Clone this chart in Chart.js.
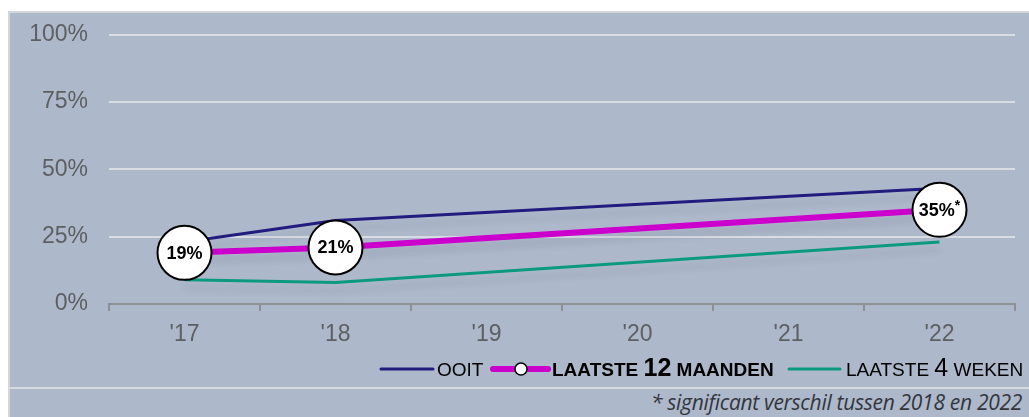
<!DOCTYPE html>
<html>
<head>
<meta charset="utf-8">
<script src="https://cdn.jsdelivr.net/npm/chart.js@4"></script>
<style>
  html, body { margin: 0; padding: 0; background: #ffffff; width: 1029px; height: 417px; overflow: hidden; }
  #panel {
    position: absolute; left: 8px; top: 11px; right: 0; bottom: 0;
    background: #adb8ca;
    border-left: 2px solid #d4d6da; border-top: 2px solid #d4d6da;
  }
  #sep { position: absolute; left: 8px; right: 0; top: 387px; height: 2px; background: #d6dae1; }
  #note {
    position: absolute; right: 7px; top: 388px;
    font-family: 'Open Sans', sans-serif; font-style: italic; font-size: 21px;
    letter-spacing: -0.3px;
    color: #33363d; white-space: nowrap;
  }
  #moneyChart { position: absolute; left: 0; top: 0; }
</style>
</head>
<body>
<div id="panel"></div>
<div id="sep"></div>
<div id="note">* significant verschil tussen 2018 en 2022</div>
<canvas id="moneyChart" width="1029" height="417"></canvas>
<script>
// jaren op de x-as
const years = ["'17", "'18", "'19", "'20", "'21", "'22"];

// percentages per reeks (geen meting in '19-'21)
const ooit = [23, 31, null, null, null, 43];
const laatste12 = [19, 21, null, null, null, 35];
const laatste4 = [9, 8, null, null, null, 23];
const significant = [false, false, false, false, false, true];

const yTicks = [0, 25, 50, 75, 100];

const fontFam = "'Liberation Sans', Arial, sans-serif";
const colOoit = '#221c7e';
const col12 = '#cc00cc';
const col4 = '#0b9a80';

const canvasEl = document.getElementById('moneyChart');

const shadowPlugin = {
    id: 'shadow',
    beforeDatasetDraw: (chart) => {
        const ctx = chart.ctx;
        ctx.save();
        ctx.shadowColor = 'rgba(40, 50, 70, 0.10)';
        ctx.shadowBlur = 6;
        ctx.shadowOffsetY = 8;
    },
    afterDatasetDraw: (chart) => {
        chart.ctx.restore();
    }
};

const bubbleLabels = {
    id: 'bubbleLabels',
    afterDatasetsDraw: (chart) => {
        const ctx = chart.ctx;
        const meta = chart.getDatasetMeta(1);
        ctx.save();
        laatste12.forEach((v, i) => {
            if (v === null) return;
            const pt = meta.data[i];
            ctx.beginPath();
            ctx.arc(pt.x, pt.y, 27, 0, Math.PI * 2);
            ctx.fillStyle = '#ffffff';
            ctx.fill();
            ctx.lineWidth = 2;
            ctx.strokeStyle = '#000000';
            ctx.stroke();

            const main = v + '%';
            ctx.font = 'bold 18px ' + fontFam;
            const w1 = ctx.measureText(main).width;
            let w2 = 0;
            if (significant[i]) {
                ctx.font = 'bold 14px ' + fontFam;
                w2 = ctx.measureText('*').width;
            }
            const x0 = pt.x - (w1 + w2) / 2;
            ctx.fillStyle = '#000000';
            ctx.textBaseline = 'middle';
            ctx.textAlign = 'left';
            ctx.font = 'bold 18px ' + fontFam;
            ctx.fillText(main, x0, pt.y + 1);
            if (significant[i]) {
                ctx.font = 'bold 14px ' + fontFam;
                ctx.fillText('*', x0 + w1, pt.y - 4);
            }
        });
        ctx.restore();
    }
};

const legendPlugin = {
    id: 'customLegend',
    afterDraw: (chart) => {
        const ctx = chart.ctx;
        const y = 369;
        ctx.save();
        ctx.textBaseline = 'alphabetic';
        ctx.textAlign = 'left';
        ctx.lineCap = 'round';
        const base = y + 7;

        const line = (x1, x2, color, w) => {
            ctx.beginPath();
            ctx.moveTo(x1, y);
            ctx.lineTo(x2, y);
            ctx.strokeStyle = color;
            ctx.lineWidth = w;
            ctx.stroke();
        };
        const parts = (x, pieces) => {
            pieces.forEach(p => {
                ctx.font = p[1];
                ctx.fillStyle = '#000000';
                ctx.fillText(p[0], x, base);
                x += ctx.measureText(p[0]).width;
            });
            return x;
        };

        line(381, 433, colOoit, 3);
        parts(437, [['OOIT', '19px ' + fontFam]]);

        line(493, 548, col12, 6);
        ctx.beginPath();
        ctx.arc(521, y, 6, 0, Math.PI * 2);
        ctx.fillStyle = '#ffffff';
        ctx.fill();
        ctx.lineWidth = 1.5;
        ctx.strokeStyle = '#000000';
        ctx.stroke();
        parts(552, [
            ['LAATSTE ', 'bold 19px ' + fontFam],
            ['12', 'bold 25px ' + fontFam],
            [' MAANDEN', 'bold 19px ' + fontFam]
        ]);

        line(789, 840, col4, 3);
        parts(846, [
            ['LAATSTE ', '19px ' + fontFam],
            ['4', '25px ' + fontFam],
            [' WEKEN', '19px ' + fontFam]
        ]);
        ctx.restore();
    }
};

const chart = new Chart(canvasEl, {
    type: 'line',
    data: {
        labels: years,
        datasets: [{
            label: 'OOIT',
            data: ooit,
            borderColor: colOoit,
            borderWidth: 3,
            pointRadius: 0,
            spanGaps: true,
            tension: 0
        }, {
            label: 'LAATSTE 12 MAANDEN',
            data: laatste12,
            borderColor: col12,
            borderWidth: 6,
            pointRadius: 0,
            spanGaps: true,
            tension: 0
        }, {
            label: 'LAATSTE 4 WEKEN',
            data: laatste4,
            borderColor: col4,
            borderWidth: 3,
            pointRadius: 0,
            spanGaps: true,
            tension: 0
        }]
    },
    options: {
        responsive: false,
        animation: false,
        layout: { padding: { top: 29, right: 14, bottom: 0, left: 0 } },
        plugins: {
            legend: { display: false },
            tooltip: { enabled: false }
        },
        scales: {
            x: {
                offset: true,
                grid: {
                    display: true,
                    offset: true,
                    drawOnChartArea: false,
                    drawTicks: true,
                    tickLength: 7,
                    color: '#8c8f94',
                    lineWidth: 2
                },
                border: { display: true, color: '#8c8f94', width: 2 },
                ticks: {
                    color: '#5d5f63',
                    font: { family: fontFam, size: 23 },
                    padding: 10
                },
                afterFit: (scale) => { scale.height = 113; }
            },
            y: {
                min: 0,
                max: 100,
                afterBuildTicks: (scale) => {
                    scale.ticks = yTicks.map(v => ({ value: v }));
                },
                grid: {
                    drawTicks: false,
                    lineWidth: 2,
                    color: (c) => c.tick && c.tick.value === 0 ? 'rgba(0,0,0,0)' : '#d8dce3'
                },
                border: { display: false },
                ticks: {
                    color: '#5d5f63',
                    font: { family: fontFam, size: 23 },
                    padding: 21,
                    callback: (v) => v + '%'
                },
                afterFit: (scale) => { scale.width = 109; }
            }
        }
    },
    plugins: [shadowPlugin, bubbleLabels, legendPlugin]
});
</script>
</body>
</html>
